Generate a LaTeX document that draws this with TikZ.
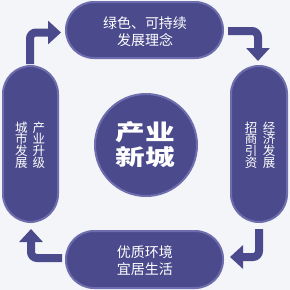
\documentclass[tikz,border=0pt]{standalone}
\usepackage{fontspec}
\newfontfamily\cjk{Noto Sans CJK SC}
\usetikzlibrary{arrows.meta}
\definecolor{bgc}{HTML}{F4F5F8}
\definecolor{pillc}{HTML}{4A4A8C}
\definecolor{edgec}{HTML}{6E6DAE}
\tikzset{
  pill/.style={fill=pillc, draw=edgec, line width=2pt, rounded corners=28pt},
  hlabel/.style={text=white, align=center, font=\cjk\fontsize{14}{17}\selectfont},
  vlabel/.style={text=white, align=center, inner sep=0pt, font=\cjk\fontsize{12.5}{11.7}\selectfont},
  flow/.style={draw=pillc, line width=8pt, rounded corners=6pt, -{Triangle[length=13pt,width=23pt]}}
}
\begin{document}
\begin{tikzpicture}[x=1pt,y=-1pt]
\fill[bgc] (0,0) rectangle (290,290);
\useasboundingbox (0,0) rectangle (290,290);
% pills
\draw[pill] (66,2) rectangle (223,58);
\draw[pill] (66,231) rectangle (223,288);
\draw[pill] (3,66) rectangle (58,222);
\draw[pill] (231,66) rectangle (287,222);
\node[hlabel] (top) at (145,32) {绿色、可持续\\发展理念};
\node[hlabel] (bot) at (145,261) {优质环境\\宜居生活};
\node[vlabel] (l1) at (21.5,145) {城\\市\\发\\展};
\node[vlabel] (l2) at (39,145) {产\\业\\升\\级};
\node[vlabel] (r1) at (251,145) {招\\商\\引\\资};
\node[vlabel] (r2) at (269,145) {经\\济\\发\\展};
% center
\draw[fill=pillc, draw=edgec, line width=2pt] (146,145) circle (51);
\node[text=white, align=center, font=\cjk\bfseries\fontsize{22}{25}\selectfont] (c) at (145,145) {\scalebox{1.35}[1]{产业}\\\scalebox{1.35}[1]{新城}};
% arrows
\coordinate (a1s) at (30,64); \coordinate (a1m) at (30,32.5); \coordinate (a1e) at (61,32.5);
\coordinate (a2s) at (228,31); \coordinate (a2m) at (258,31); \coordinate (a2e) at (258,61);
\coordinate (a3s) at (259,229); \coordinate (a3m) at (259,257); \coordinate (a3e) at (230,257);
\coordinate (a4s) at (62,258); \coordinate (a4m) at (31,258); \coordinate (a4e) at (31,229);
\draw[flow] (a1s) -- (a1m) -- (a1e);
\draw[flow] (a2s) -- (a2m) -- (a2e);
\draw[flow] (a3s) -- (a3m) -- (a3e);
\draw[flow] (a4s) -- (a4m) -- (a4e);
\end{tikzpicture}
\end{document}
